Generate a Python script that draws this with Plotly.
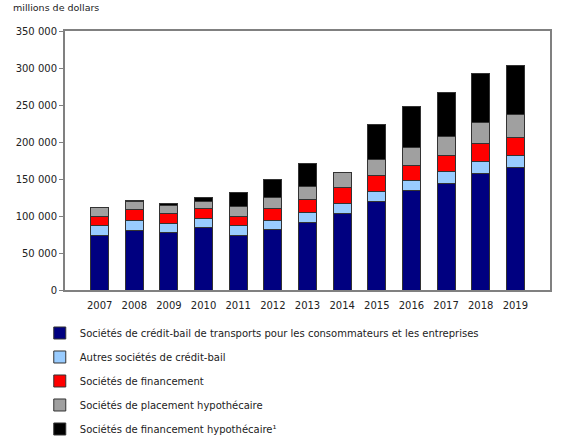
import plotly.graph_objects as go

years = ["2007", "2008", "2009", "2010", "2011", "2012", "2013",
         "2014", "2015", "2016", "2017", "2018", "2019"]

# millions de dollars
transport = [74300, 81000, 78000, 84700, 74300, 82400, 91400,
             104000, 119800, 134200, 144100, 158100, 165300]
autres_credit_bail = [13000, 13000, 11300, 11300, 12600, 12200, 13100,
                      13100, 13100, 14400, 16200, 15800, 16200]
financement = [12600, 14400, 13500, 13500, 13100, 15300, 18000,
               21600, 22100, 20300, 21600, 24300, 24800]
placement_hyp = [11300, 11300, 11300, 10400, 12600, 15300, 17100,
                 19800, 20700, 23400, 26100, 28800, 31100]
financement_hyp = [500, 1800, 2700, 4500, 19800, 24300, 31500,
                   0, 48600, 56300, 59000, 64900, 66200]

series = [
    ("Sociétés de crédit-bail de transports pour les consommateurs et les entreprises", transport, "#000080"),
    ("Autres sociétés de crédit-bail", autres_credit_bail, "#99ccff"),
    ("Sociétés de financement", financement, "#ff0000"),
    ("Sociétés de placement hypothécaire", placement_hyp, "#a0a0a0"),
    ("Sociétés de financement hypothécaire¹", financement_hyp, "#000000"),
]

fig = go.Figure()
for i, (name, vals, col) in enumerate(series):
    fig.add_trace(go.Bar(
        x=years, y=vals, name=name,
        marker=dict(color=col, line=dict(color="#333333", width=1)),
        width=0.52,
        legendgroup="g%d" % i,
    ))

axis_col = "#808080"
fig.update_layout(
    barmode="stack",
    width=580, height=445,
    margin=dict(l=65, r=30, t=31, b=155, autoexpand=False),
    paper_bgcolor="white", plot_bgcolor="white",
    font=dict(family="DejaVu Sans", size=10, color="#222222"),
    separators=". ",
    showlegend=True,
    legend=dict(
        orientation="v", traceorder="grouped",
        x=-0.052, xanchor="left", y=-0.11, yanchor="top",
        tracegroupgap=5, font=dict(size=10),
        bgcolor="rgba(0,0,0,0)",
    ),
    annotations=[dict(
        text="millions de dollars", xref="paper", yref="paper",
        x=-0.112, y=1.062, xanchor="left", yanchor="bottom",
        showarrow=False, font=dict(size=9.5),
    )],
)
fig.update_xaxes(
    showline=True, linecolor=axis_col, linewidth=2, mirror=True,
    ticks="outside", ticklen=5, tickcolor="rgba(0,0,0,0)",
    showgrid=False, range=[-1, 13],
)
fig.update_yaxes(
    showline=True, linecolor=axis_col, linewidth=2, mirror=True,
    range=[0, 350000], dtick=50000, tickformat=",d",
    ticks="outside", ticklen=4, tickcolor=axis_col,
    showgrid=False, zeroline=False,
)

# drop the default 8px page margin so the figure sits at the window corner
fig.write_html("out.html", config={"displayModeBar": False},
               post_script="document.body.style.margin='0';")
